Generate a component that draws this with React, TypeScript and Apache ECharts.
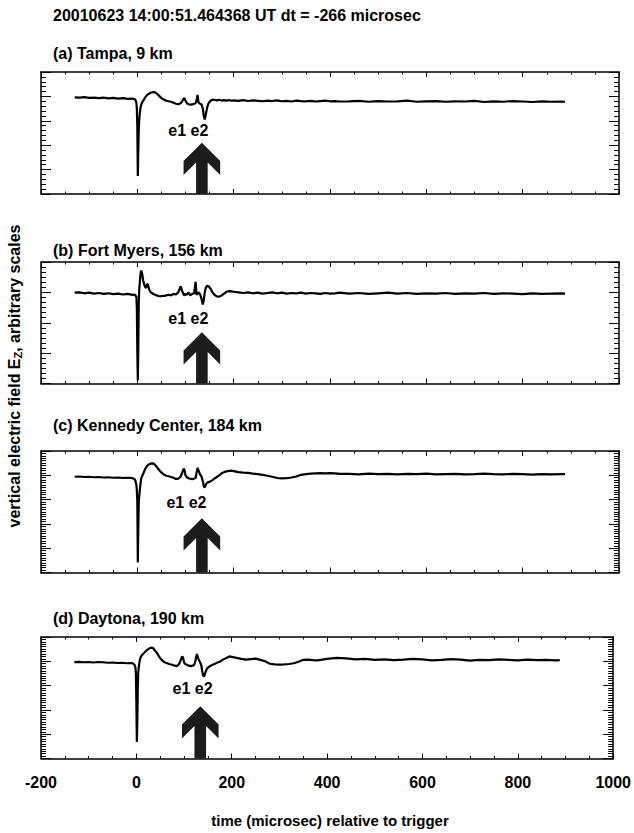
import React, { useEffect, useRef } from "react";
import * as echarts from "echarts";

// ---------------- data ----------------
const TIME_US = [
  -130, -120, -110, -100, -90, -80, -70, -60, -50, -40, -30, -20, -10,
  -6, -4, -2, -1, 0, 1, 2, 3, 4, 5, 6, 7, 8,
  10, 12, 14, 16, 18, 20, 22,
  25, 28, 31, 34, 37, 40,
  44, 48, 52, 56, 60,
  65, 70, 75, 80, 85, 90,
  93, 96, 98, 100, 103, 106, 110, 114, 118, 121, 123, 125, 127, 130, 133, 136, 138, 140, 142, 145, 148,
  152, 156, 160, 165, 170, 175, 180, 185, 190, 195, 200,
  210, 220, 230, 240, 250, 260, 270, 280, 290, 300, 310, 320, 330, 340, 350, 360, 370, 380, 390, 400, 410, 420,
  440, 460, 480, 500, 520, 540, 560, 580, 600, 620, 640, 660, 680, 700, 720, 740, 760, 780, 800, 820, 840, 860, 880,
  888,
];

const TAMPA_EZ = [
  3.96, 3.95, 3.97, 3.94, 3.95, 3.93, 3.95, 3.92, 3.94, 3.91, 3.93, 3.9, 3.91,
  3.89, 3.86, 3.75, 3.5, 2.75, 0.74, 1.8, 2.65, 3.05, 3.3, 3.45, 3.58, 3.66,
  3.75, 3.82, 3.88, 3.95, 4.0, 4.05, 4.08,
  4.12, 4.15, 4.17, 4.18, 4.16, 4.12,
  4.05, 3.97, 3.9, 3.86, 3.82,
  3.8, 3.78, 3.74, 3.7, 3.68, 3.72,
  3.8, 3.9, 3.93, 3.82, 3.72, 3.68, 3.66, 3.67, 3.7, 3.72, 3.85, 4.06, 3.75, 3.7, 3.68, 3.5, 3.2, 3.05, 3.25, 3.55, 3.72,
  3.82, 3.87, 3.86, 3.84, 3.86, 3.83, 3.85, 3.83, 3.85, 3.82, 3.84,
  3.82, 3.85, 3.81, 3.84, 3.82, 3.8, 3.83, 3.81, 3.84, 3.8, 3.82, 3.79, 3.83, 3.81, 3.8, 3.82, 3.79, 3.81, 3.83, 3.8, 3.81, 3.79,
  3.8, 3.82, 3.78, 3.81, 3.79, 3.8, 3.83, 3.78, 3.8, 3.81, 3.78, 3.8, 3.79, 3.82, 3.77, 3.8, 3.78, 3.81, 3.79, 3.77, 3.8, 3.78, 3.79,
  3.78,
];

const FORT_MYERS_EZ = [
  2.99, 3.0, 2.97, 2.99, 2.96, 2.98, 2.95, 2.97, 2.94, 2.96, 2.93, 2.95, 2.92,
  2.93, 2.9, 2.85, 2.5, 1.0, 0.11, 1.2, 2.7, 3.1, 3.3, 3.5, 3.65, 3.72,
  3.62, 3.4, 3.27, 3.18, 3.14, 3.28, 3.25,
  3.08, 3.0, 2.97, 2.94, 2.92, 2.9,
  2.88, 2.87, 2.89, 2.88, 2.9,
  2.92, 2.9, 2.95, 2.93, 3.0, 3.2,
  3.05, 2.93, 2.9, 2.95, 2.92, 3.0, 2.9, 2.95, 2.97, 3.35, 2.92, 2.95, 3.0, 2.95, 2.8, 2.6, 2.75, 3.0, 3.15, 3.22, 3.2,
  3.12, 3.0, 2.92, 2.87, 2.86, 2.9, 2.96, 3.02, 3.04, 3.03, 3.02,
  3.0, 2.98, 3.0, 2.97, 2.99, 2.96, 2.98, 3.0, 2.97, 2.99, 2.96, 2.98, 2.97, 2.99, 2.96, 2.98, 2.97, 2.95, 2.98, 2.96, 2.97, 2.99,
  2.96, 2.98, 2.95, 2.97, 2.99, 2.96, 2.98, 2.95, 2.97, 2.96, 2.98, 2.95, 2.97, 2.96, 2.98, 2.95, 2.97, 2.96, 2.94, 2.97, 2.95, 2.96, 2.97,
  2.96,
];

const KENNEDY_EZ = [
  3.94, 3.95, 3.93, 3.94, 3.92, 3.93, 3.91, 3.92, 3.9, 3.91, 3.89, 3.9, 3.88,
  3.85, 3.78, 3.6, 3.4, 2.9, 0.41, 1.8, 2.9, 3.15, 3.35, 3.55, 3.72, 3.85,
  3.97, 4.05, 4.15, 4.25, 4.32, 4.38, 4.42,
  4.46, 4.48, 4.49, 4.48, 4.42, 4.35,
  4.25, 4.15, 4.08, 4.02, 3.98,
  3.96, 3.93, 3.9, 3.85, 3.86, 3.95,
  4.1, 4.27, 4.22, 4.0, 3.92, 3.88, 3.86, 3.84, 3.86, 3.9, 4.1, 4.3, 4.2, 4.05, 3.96, 3.75, 3.55, 3.5, 3.62, 3.7, 3.72,
  3.75, 3.8, 3.86, 3.93, 4.0, 4.08, 4.13, 4.16, 4.18, 4.19, 4.17,
  4.13, 4.11, 4.1, 4.07, 4.05, 4.02, 3.98, 3.94, 3.89, 3.87, 3.88, 3.91, 3.95, 4.02, 4.05, 4.07, 4.08, 4.09, 4.08, 4.09, 4.08, 4.06,
  4.06, 4.04, 4.07, 4.05, 4.06, 4.04, 4.06, 4.05, 4.07, 4.04, 4.05, 4.06, 4.04, 4.05, 4.07, 4.05, 4.04, 4.06, 4.05, 4.03, 4.05, 4.04, 4.05,
  4.05,
];

const DAYTONA_EZ = [
  3.97, 3.98, 3.96, 3.97, 3.95, 3.97, 3.96, 3.94, 3.95, 3.93, 3.94, 3.92, 3.93,
  3.9, 3.86, 3.75, 3.5, 2.3, 0.68, 1.5, 2.9, 3.55, 3.75, 3.9, 4.02, 4.12,
  4.2, 4.26, 4.3, 4.34, 4.38, 4.42, 4.46,
  4.5, 4.54, 4.56, 4.55, 4.5, 4.42,
  4.32, 4.18, 4.08, 4.0, 3.95,
  3.92, 3.88, 3.86, 3.82, 3.8, 3.9,
  4.05, 4.2, 4.15, 3.95, 3.88, 3.86, 3.82, 3.8, 3.82, 3.85, 3.95, 4.15, 4.3, 4.1, 3.98, 3.85, 3.6, 3.42, 3.38, 3.55, 3.7,
  3.77, 3.82, 3.86, 3.9, 3.95, 3.98, 4.05, 4.1, 4.15, 4.2, 4.18,
  4.14, 4.1, 4.07, 4.09, 4.11, 4.06, 4.0, 3.9, 3.87, 3.86, 3.87, 3.89, 3.92, 3.98, 4.06, 4.07, 4.05, 4.04, 4.07, 4.1, 4.12, 4.14,
  4.12, 4.08, 4.1, 4.06, 4.08, 4.05, 4.07, 4.1, 4.08, 4.04, 4.06, 4.09, 4.07, 4.03, 4.06, 4.05, 4.08, 4.06, 4.04, 4.07, 4.05, 4.06, 4.04,
  4.05,
];

const SERIES_VALUES = [TAMPA_EZ, FORT_MYERS_EZ, KENNEDY_EZ, DAYTONA_EZ];
const PANEL_TITLES = [
  "(a) Tampa, 9 km",
  "(b) Fort Myers, 156 km",
  "(c) Kennedy Center, 184 km",
  "(d) Daytona, 190 km",
];
const MAIN_TITLE = "20010623 14:00:51.464368 UT dt = -266 microsec";
const X_TITLE = "time (microsec) relative to trigger";
const Y_TITLE = "vertical electric field E{sub|Z}, arbitrary scales";
const X_MIN = -200;
const X_MAX = 1000;
const X_STEP = 200;
const Y_MAX = [5, 4, 5, 5];
const Y_MINOR = [5, 6, 10, 10];
const EVENT_LABEL = "e1 e2";
const EVENT_LABEL_T = [106, 106, 102, 118];
const EVENT_LABEL_V = [2.62, 2.15, 2.87, 2.88];
const ARROW_T = [134, 134, 134, 134];
const ARROW_TIP_V = [2.1, 1.69, 2.23, 2.15];

// ---------------- layout / style ----------------
const W = 634;
const H = 833;
const FONT = '"Liberation Sans", Arial, Helvetica, sans-serif';
const GRID_LEFT = 41;
const GRID_WIDTH = 578;
const GRID_TOP = [72, 262, 451, 637];
const GRID_H = [122, 121.5, 121.5, 121.5];
const TITLE_Y = [53, 250, 425, 618];

export default function App() {
  const ref = useRef<HTMLDivElement>(null);

  useEffect(() => {
    if (!ref.current) return;
    const chart = echarts.init(ref.current, null, { renderer: "svg" });

    const grids: any[] = [];
    const xAxes: any[] = [];
    const yAxes: any[] = [];
    const series: any[] = [];

    for (let k = 0; k < 4; k++) {
      grids.push({ left: GRID_LEFT, top: GRID_TOP[k], width: GRID_WIDTH, height: GRID_H[k], containLabel: false });
      ["bottom", "top"].forEach((pos) => {
        xAxes.push({
          type: "value",
          gridIndex: k,
          position: pos,
          min: X_MIN,
          max: X_MAX,
          interval: X_STEP,
          axisLine: { show: true, onZero: false, lineStyle: { color: "#000", width: 1.5 } },
          axisTick: { show: true, inside: true, length: 5, lineStyle: { color: "#000", width: 1 } },
          minorTick: { show: true, splitNumber: 4, length: 2.5, lineStyle: { color: "#000", width: 1 } },
          splitLine: { show: false },
          minorSplitLine: { show: false },
          axisLabel: {
            show: k === 3 && pos === "bottom",
            color: "#000",
            fontFamily: FONT,
            fontWeight: "bold",
            fontSize: 16,
            margin: 16,
            formatter: (v: number) => String(v),
          },
        });
      });
      ["left", "right"].forEach((pos) => {
        yAxes.push({
          type: "value",
          gridIndex: k,
          position: pos,
          min: 0,
          max: Y_MAX[k],
          interval: 1,
          axisLine: { show: true, onZero: false, lineStyle: { color: "#000", width: 1.5 } },
          axisTick: { show: true, inside: true, length: 10, lineStyle: { color: "#000", width: 1 } },
          minorTick: { show: true, splitNumber: Y_MINOR[k], length: 5, lineStyle: { color: "#000", width: 1 } },
          splitLine: { show: false },
          minorSplitLine: { show: false },
          axisLabel: { show: false },
        });
      });

      const vals = SERIES_VALUES[k];
      series.push({
        type: "line",
        name: PANEL_TITLES[k],
        xAxisIndex: 2 * k,
        yAxisIndex: 2 * k,
        data: TIME_US.map((t, i) => [t, vals[i]]),
        showSymbol: false,
        symbol: "none",
        lineStyle: { color: "#000", width: 2.2 },
        z: 3,
      });

      series.push({
        type: "custom",
        name: "arrow" + k,
        xAxisIndex: 2 * k,
        yAxisIndex: 2 * k,
        data: [[ARROW_T[k], ARROW_TIP_V[k]]],
        renderItem: (params: any, api: any) => {
          const tip = api.coord([api.value(0), api.value(1)]);
          const base = api.coord([api.value(0), 0]);
          const cx = tip[0];
          const ty = tip[1];
          const by = base[1];
          const hw = 18.3;
          const sw = 5.8;
          return {
            type: "polygon",
            shape: {
              points: [
                [cx, ty],
                [cx + hw, ty + hw],
                [cx + hw, ty + 32.3],
                [cx + sw, ty + 32.3 - (hw - sw)],
                [cx + sw, by],
                [cx - sw, by],
                [cx - sw, ty + 32.3 - (hw - sw)],
                [cx - hw, ty + 32.3],
                [cx - hw, ty + hw],
              ],
            },
            style: { fill: "#1c1c1c" },
          };
        },
        z: 2,
      });

      series.push({
        type: "custom",
        name: "label" + k,
        xAxisIndex: 2 * k,
        yAxisIndex: 2 * k,
        data: [[EVENT_LABEL_T[k], EVENT_LABEL_V[k]]],
        renderItem: (params: any, api: any) => {
          const p = api.coord([api.value(0), api.value(1)]);
          return {
            type: "text",
            x: p[0],
            y: p[1],
            style: {
              text: EVENT_LABEL,
              fill: "#000",
              fontFamily: FONT,
              fontWeight: "bold",
              fontSize: 16,
              align: "center",
              verticalAlign: "middle",
            },
          };
        },
        z: 4,
      });
    }

    const textStyle = (size: number) => ({
      fill: "#000",
      fontFamily: FONT,
      fontWeight: "bold",
      fontSize: size,
    });

    const graphics: any[] = [
      {
        type: "text",
        x: 53,
        y: 15,
        style: { ...textStyle(16), text: MAIN_TITLE, align: "left", verticalAlign: "middle" },
      },
      ...PANEL_TITLES.map((t, k) => ({
        type: "text",
        x: 53,
        y: TITLE_Y[k],
        style: { ...textStyle(16), text: t, align: "left", verticalAlign: "middle" },
      })),
      {
        type: "text",
        x: 330,
        y: 820,
        style: { ...textStyle(15), text: X_TITLE, align: "center", verticalAlign: "middle" },
      },
      {
        type: "text",
        x: 14,
        y: 376,
        rotation: Math.PI / 2,
        style: {
          ...textStyle(16),
          text: Y_TITLE,
          align: "center",
          verticalAlign: "middle",
          rich: {
            sub: {
              fill: "#000",
              fontFamily: FONT,
              fontWeight: "bold",
              fontSize: 11,
              verticalAlign: "bottom",
              padding: [7, 0, 0, 0],
            },
          },
        },
      },
    ];

    chart.setOption({
      animation: false,
      backgroundColor: "#fff",
      grid: grids,
      xAxis: xAxes,
      yAxis: yAxes,
      series,
      graphic: graphics,
    });

    return () => chart.dispose();
  }, []);

  return (
    <div
      ref={ref}
      style={{ position: "fixed", left: 0, top: 0, width: W, height: H, background: "#fff" }}
    />
  );
}
